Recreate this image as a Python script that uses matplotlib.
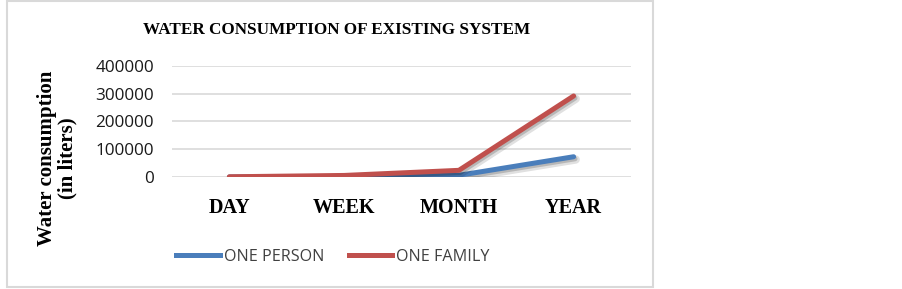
import matplotlib
matplotlib.use("Agg")
import matplotlib.pyplot as plt
import matplotlib.patheffects as pe
from matplotlib.lines import Line2D
from matplotlib.patches import Rectangle

periods = ["DAY", "WEEK", "MONTH", "YEAR"]
one_person = [200, 1400, 6000, 73000]
one_family = [800, 5600, 24000, 292000]
y_ticks = [0, 100000, 200000, 300000, 400000]

BLUE, RED = "#4A7EBB", "#C0504D"
W, H = 903, 289
fig = plt.figure(figsize=(W / 100, H / 100), dpi=100)
fig.patch.set_facecolor("white")

# chart frame
fig.patches.append(Rectangle((7 / W, 2 / H), 646 / W, 286 / H, transform=fig.transFigure,
                             fill=False, edgecolor="#D9D9D9", linewidth=1.5))

ax = fig.add_axes([172 / W, 1 - 177 / H, 459 / W, 111 / H])
x = range(len(periods))
shadow = [pe.SimpleLineShadow(offset=(1.5, -2), alpha=0.12, shadow_color="black", linewidth=6),
          pe.SimpleLineShadow(offset=(1, -1.5), alpha=0.18, shadow_color="black"),
          pe.Normal()]
ax.plot(x, one_person, color=BLUE, lw=3.6, solid_capstyle="round",
        solid_joinstyle="round", path_effects=shadow)
ax.plot(x, one_family, color=RED, lw=3.6, solid_capstyle="round",
        solid_joinstyle="round", path_effects=shadow)

ax.set_xlim(-0.5, len(periods) - 0.5)
ax.set_ylim(0, 400000)
ax.set_yticks(y_ticks)
ax.set_yticklabels([str(v) for v in y_ticks], fontsize=12.3, family="Open Sans", color="#1a1a1a")
ax.set_xticks(list(x))
ax.set_xticklabels(periods, fontsize=14.5, family="Liberation Serif", fontweight="bold")
ax.tick_params(axis="both", length=0)
ax.tick_params(axis="y", pad=13)
ax.tick_params(axis="x", pad=15)
ax.grid(axis="y", color="#D9D9D9", lw=1.2)
ax.set_axisbelow(True)
for s in ax.spines.values():
    s.set_visible(False)

fig.text(337 / W, 1 - 30 / H, "WATER CONSUMPTION OF EXISTING SYSTEM", ha="center", va="center",
         fontsize=12.3, family="Liberation Serif", fontweight="bold")
fig.text(57 / W, 1 - 158 / H, "Water consumption\n(in liters)", ha="center", va="center",
         rotation=90, fontsize=15, family="Liberation Serif", fontweight="bold", linespacing=1.0)

handles = [Line2D([], [], color=BLUE, lw=3.6), Line2D([], [], color=RED, lw=3.6)]
fig.legend(handles, ["ONE PERSON", "ONE FAMILY"], loc="center", bbox_to_anchor=(333 / W, 1 - 257 / H),
           ncol=2, frameon=False, prop={"family": "Open Sans", "size": 11.6}, labelcolor="#404040",
           handlelength=2.7, handletextpad=0.25, columnspacing=1.5)

fig.savefig("out.png", dpi=100)
